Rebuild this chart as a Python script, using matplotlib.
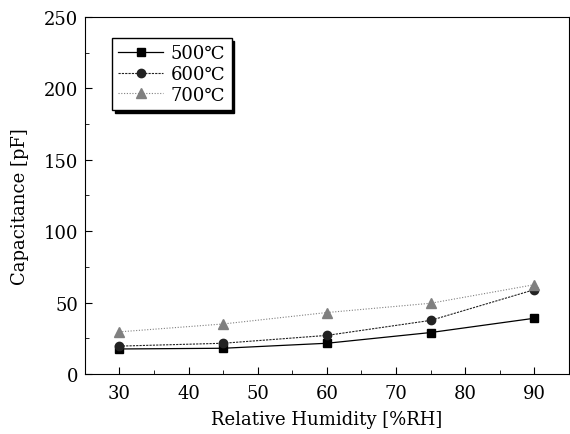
import matplotlib
matplotlib.use("Agg")
import matplotlib.pyplot as plt
from matplotlib.ticker import MultipleLocator

# data
humidity = [30, 45, 60, 75, 90]
cap_500 = [17.5, 18, 21.5, 29, 39]
cap_600 = [19.5, 21.5, 27, 37.5, 59]
cap_700 = [29.5, 35, 43, 49.5, 62.5]
labels = ["500℃", "600℃", "700℃"]

plt.rcParams["font.family"] = ["DejaVu Serif", "DejaVu Sans"]

fig = plt.figure(figsize=(5.7, 4.35), dpi=100)
ax = fig.add_axes([0.149, 0.138, 0.849, 0.821])

ax.plot(humidity, cap_500, color="black", linestyle="-", linewidth=0.9,
        marker="s", markersize=6, label=labels[0])
ax.plot(humidity, cap_600, color="#222222", linestyle=(0, (2, 1)), linewidth=0.8,
        marker="o", markersize=6, label=labels[1])
ax.plot(humidity, cap_700, color="#808080", linestyle=(0, (1, 1.5)), linewidth=0.8,
        marker="^", markersize=7, label=labels[2])

ax.set_xlim(25, 95)
ax.set_ylim(0, 250)
ax.xaxis.set_major_locator(MultipleLocator(10))
ax.xaxis.set_minor_locator(MultipleLocator(5))
ax.yaxis.set_major_locator(MultipleLocator(50))
ax.yaxis.set_minor_locator(MultipleLocator(25))
ax.tick_params(which="both", direction="in", top=False, right=False, labelsize=13)
ax.tick_params(which="major", length=5)
ax.tick_params(which="minor", length=3)
ax.tick_params(axis="y", pad=5)
ax.tick_params(axis="x", pad=7)

ax.set_xlabel("Relative Humidity [%RH]", fontsize=13, labelpad=6)
ax.set_ylabel("Capacitance [pF]", fontsize=13)
ax.yaxis.set_label_coords(-0.115, 0.47)

ax.legend(loc="upper left", bbox_to_anchor=(0.056, 0.941), borderaxespad=0,
          fontsize=13, fancybox=False,
          shadow={"color": "black", "alpha": 1, "ox": 2, "oy": -2},
          edgecolor="black", framealpha=1,
          handlelength=2.5, borderpad=0.35, labelspacing=0.15, handletextpad=0.4)

fig.savefig("out.png", dpi=100)
